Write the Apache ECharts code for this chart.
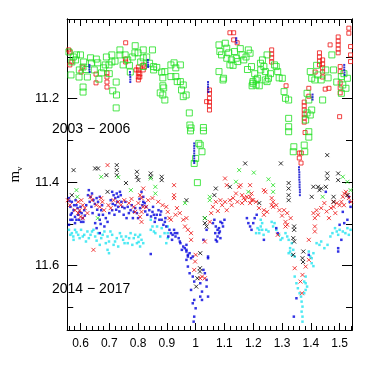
<!DOCTYPE html>
<html>
<head>
<meta charset="utf-8">
<script src="https://cdn.jsdelivr.net/npm/echarts@6/dist/echarts.min.js"></script>
<style>
  html, body { margin: 0; padding: 0; background: #fff; }
  #chart { width: 372px; height: 369px; }
</style>
</head>
<body>
<div id="chart"></div>
<script>
// axis ranges and ticks
const xRange = [0.554, 1.543];
const yRange = [11.009, 11.754];
const xMajor = [0.6, 0.7, 0.8, 0.9, 1, 1.1, 1.2, 1.3, 1.4, 1.5];
const xMinor = [0.56, 0.58, 0.62, 0.64, 0.66, 0.68, 0.72, 0.74, 0.76, 0.78, 0.82, 0.84, 0.86, 0.88,
  0.92, 0.94, 0.96, 0.98, 1.02, 1.04, 1.06, 1.08, 1.12, 1.14, 1.16, 1.18, 1.22, 1.24, 1.26, 1.28,
  1.32, 1.34, 1.36, 1.38, 1.42, 1.44, 1.46, 1.48, 1.52, 1.54];
const yMajor = [11.2, 11.4, 11.6];
const yMinor = [11.1, 11.3, 11.5, 11.7];
const periodLabels = ["2003 \u2212 2006", "2014 \u2212 2017"];

// 2003-2006: green open squares
const greenSquares = [
  [0.560,11.088],[0.570,11.112],[0.567,11.143],[0.586,11.095],[0.583,11.107],[0.595,11.148],[0.611,11.112],
  [0.609,11.124],[0.624,11.148],[0.638,11.114],[0.660,11.114],[0.664,11.153],[0.673,11.138],[0.686,11.119],
  [0.699,11.119],[0.709,11.095],[0.709,11.112],[0.737,11.083],[0.737,11.095],[0.790,11.073],[0.789,11.090],
  [0.809,11.112],[0.818,11.123],[0.609,11.172],[0.609,11.184],[0.724,11.160],[0.712,11.181],[0.725,11.191],
  [0.724,11.222],[0.648,11.131],[0.680,11.126],[0.764,11.107],[0.748,11.119],[0.773,11.136],[0.635,11.102],
  [0.596,11.131],[0.818,11.083],[0.818,11.102],[0.850,11.083],[0.854,11.123],[0.854,11.131],[0.882,11.136],
  [0.893,11.135],[0.886,11.150],[0.914,11.119],[0.925,11.114],[0.931,11.126],[0.947,11.119],[0.914,11.147],
  [0.931,11.147],[0.936,11.159],[0.947,11.159],[0.957,11.167],[0.951,11.179],[0.957,11.195],[0.967,11.191],
  [0.886,11.169],[0.889,11.174],[0.886,11.191],[0.893,11.203],[0.877,11.186],[0.978,11.234],[0.980,11.263],
  [0.984,11.270],[1.027,11.269],[1.081,11.071],[1.084,11.087],[1.103,11.067],[1.108,11.079],[1.081,11.135],
  [1.097,11.151],[1.095,11.155],[1.119,11.119],[1.135,11.087],[1.141,11.103],[1.146,11.111],[1.161,11.095],
  [1.167,11.107],[1.183,11.083],[1.189,11.091],[1.194,11.123],[1.199,11.159],[1.210,11.155],[1.210,11.167],
  [1.108,11.103],[1.124,11.107],[0.982,11.277],[1.027,11.277],[1.011,11.307],[1.016,11.311],[1.022,11.327],
  [1.000,11.343],[0.995,11.355],[1.006,11.401],[1.199,11.163],[1.196,11.169],[1.221,11.169],[1.232,11.107],
  [1.237,11.123],[1.242,11.135],[1.248,11.095],[1.253,11.151],[1.242,11.155],[1.248,11.159],[1.215,11.151],
  [1.226,11.131],[1.274,11.119],[1.280,11.123],[1.285,11.135],[1.301,11.151],[1.307,11.183],[1.312,11.199],
  [1.323,11.203],[1.323,11.247],[1.323,11.267],[1.398,11.135],[1.403,11.151],[1.414,11.155],[1.425,11.143],
  [1.436,11.155],[1.452,11.131],[1.473,11.095],[1.479,11.131],[1.506,11.147],[1.511,11.167],[1.527,11.151],
  [1.522,11.175],[1.506,11.187],[1.441,11.203],[1.387,11.187],[1.393,11.203],[1.403,11.227],[1.398,11.239],
  [1.387,11.234],[1.382,11.251],[1.323,11.279],[1.341,11.315],[1.339,11.327],[1.377,11.311],[1.379,11.327],
  [1.393,11.279],[1.393,11.292],
  [0.575,11.100],[0.600,11.095],[0.620,11.130],[0.655,11.105],[0.690,11.100],[0.700,11.140],[0.720,11.110],
  [0.755,11.095],[0.770,11.120],[0.780,11.100],[0.800,11.090],[0.830,11.100],[0.840,11.115],[0.865,11.125],
  [1.090,11.095],[1.115,11.090],[1.130,11.120],[1.155,11.080],[1.175,11.100],[1.180,11.130],[1.205,11.140],
  [1.225,11.115],[1.260,11.140],[1.290,11.150],[1.420,11.120],[1.460,11.150],[1.490,11.160],[1.515,11.140]
];

// 2003-2006: red open squares
const redSquares = [
  [0.559,11.083],[0.564,11.088],[0.570,11.112],[0.563,11.119],[0.602,11.136],[0.608,11.124],[0.654,11.141],
  [0.654,11.162],[0.692,11.138],[0.692,11.148],[0.692,11.160],[0.692,11.172],[0.757,11.066],[0.756,11.105],
  [0.757,11.112],[0.793,11.131],[0.806,11.141],[0.806,11.148],[0.822,11.124],[0.801,11.124],[0.801,11.131],
  [0.801,11.138],[0.801,11.148],[0.801,11.155],[0.818,11.119],[0.818,11.131],[1.048,11.179],[1.048,11.188],
  [1.048,11.199],[1.048,11.208],[1.048,11.217],[1.048,11.227],[1.038,11.207],[1.119,11.042],[1.132,11.042],
  [1.132,11.059],[1.144,11.066],[1.264,11.083],[1.264,11.093],[1.264,11.102],[1.264,11.112],[1.314,11.169],
  [1.393,11.175],[1.393,11.194],[1.430,11.090],[1.430,11.100],[1.430,11.110],[1.430,11.119],[1.441,11.107],
  [1.441,11.117],[1.441,11.126],[1.441,11.136],[1.441,11.148],[1.463,11.175],[1.450,11.177],[1.467,11.071],
  [1.495,11.052],[1.495,11.062],[1.495,11.071],[1.495,11.081],[1.495,11.090],[1.502,11.123],[1.502,11.135],
  [1.502,11.162],[1.502,11.174],[1.502,11.186],[1.532,11.031],[1.532,11.043],[1.538,11.075],[1.538,11.095],
  [1.538,11.111],[1.500,11.243],[1.377,11.208],[1.377,11.217],[1.377,11.227],[1.377,11.237],[1.377,11.246],
  [1.377,11.256],[1.415,11.136],[1.360,11.342],[1.366,11.354],[1.380,11.281],[1.367,11.330],[1.360,11.330]
];

// 2003-2006: blue points
const blueTop = [
  [0.631,11.119],[0.631,11.124],[0.631,11.130],[0.632,11.136],[0.772,11.136],[0.772,11.142],[0.773,11.148],
  [0.773,11.154],[0.773,11.160],[0.834,11.107],[0.834,11.113],[0.835,11.119],[0.835,11.124],[1.043,11.160],
  [1.043,11.166],[1.043,11.172],[1.044,11.178],[1.044,11.184],[1.141,11.055],[1.141,11.060],[1.142,11.066],
  [0.995,11.307],[0.995,11.313],[0.995,11.319],[0.995,11.325],[0.995,11.331],[0.995,11.337],[0.995,11.343],
  [0.995,11.349],[0.995,11.354],[1.406,11.190],[1.406,11.196],[1.406,11.202],[1.516,11.119],[1.516,11.125],
  [1.516,11.131],[1.517,11.137],[1.517,11.143],[1.359,11.364],[1.359,11.370],[1.360,11.376],[1.360,11.382],
  [1.360,11.388],[1.360,11.394],[1.361,11.400],[1.361,11.406],[1.361,11.412],[1.362,11.418],[1.362,11.424],
  [1.362,11.431]
];

// 2014-2017: blue dots
const blueDots = [
  [0.560,11.438],[0.570,11.447],[0.565,11.459],[0.576,11.467],[0.570,11.474],[0.581,11.483],[0.565,11.490],
  [0.560,11.502],[0.586,11.455],[0.597,11.471],[0.586,11.490],[0.602,11.495],[0.581,11.498],[0.608,11.486],
  [0.592,11.478],[0.613,11.467],[0.629,11.419],[0.640,11.427],[0.635,11.435],[0.645,11.443],[0.656,11.438],
  [0.667,11.435],[0.661,11.447],[0.672,11.467],[0.678,11.478],[0.667,11.490],[0.651,11.498],[0.656,11.510],
  [0.667,11.522],[0.683,11.506],[0.694,11.495],[0.710,11.423],[0.715,11.431],[0.721,11.438],[0.726,11.427],
  [0.731,11.435],[0.737,11.423],[0.742,11.447],[0.731,11.459],[0.710,11.467],[0.721,11.455],[0.753,11.462],
  [0.764,11.459],[0.774,11.467],[0.785,11.471],[0.796,11.474],[0.807,11.462],[0.818,11.435],[0.818,11.447],
  [0.812,11.423],[0.823,11.450],[0.828,11.459],[0.839,11.467],[0.850,11.471],[0.855,11.478],[0.860,11.486],
  [0.871,11.467],[0.877,11.478],[0.882,11.490],[0.893,11.495],[0.898,11.506],[0.909,11.514],[0.914,11.522],
  [0.920,11.526],[0.930,11.530],[0.941,11.534],[0.947,11.546],[0.957,11.554],[0.968,11.562],[0.973,11.574],
  [0.984,11.582],[0.968,11.550],[0.925,11.514],[0.936,11.522],[0.979,11.570],[0.990,11.578],[1.065,11.490],
  [1.070,11.506],[1.076,11.514],[1.081,11.522],[1.086,11.534],[1.070,11.538],[1.076,11.530],[1.081,11.510],
  [1.092,11.498],[1.086,11.495],[1.038,11.514],[1.027,11.538],[1.178,11.486],[1.194,11.514],[1.205,11.486],
  [1.189,11.506],[1.043,11.578],[0.844,11.572],[0.968,11.566],[0.973,11.578],[0.968,11.586],[0.973,11.602],
  [0.979,11.618],[0.990,11.626],[0.995,11.638],[0.984,11.658],[0.995,11.682],[0.990,11.690],[1.000,11.702],
  [0.995,11.722],[0.993,11.734],[1.016,11.642],[1.022,11.662],[1.016,11.674],[1.022,11.682],[1.027,11.610],
  [1.032,11.618],[1.038,11.634],[1.038,11.650],[1.043,11.674],[1.043,11.582],[1.237,11.538],[1.280,11.510],
  [1.285,11.522],[1.452,11.423],[1.511,11.471],[1.527,11.490],[1.516,11.498],[1.500,11.502],[1.495,11.558],
  [1.506,11.538],[1.393,11.574],[1.350,11.678],[1.341,11.722],[1.495,11.566],[1.535,11.447],[1.538,11.459],
  [1.532,11.435],
  [0.562,11.445],[0.566,11.478],[0.572,11.490],[0.578,11.455],[0.583,11.443],[0.590,11.462],[0.595,11.490],
  [0.600,11.459],[0.604,11.474],[0.610,11.495],[0.615,11.480],[0.620,11.455],[0.626,11.431],[0.632,11.447],
  [0.638,11.459],[0.642,11.474],[0.650,11.452],[0.658,11.466],[0.664,11.478],[0.670,11.500],[0.675,11.455],
  [0.688,11.486],[0.700,11.474],[0.705,11.443],[0.712,11.452],[0.718,11.478],[0.724,11.466],[0.728,11.447],
  [0.735,11.470],[0.740,11.431],[0.745,11.459],[0.750,11.478],[0.756,11.447],[0.760,11.486],[0.768,11.474],
  [0.778,11.455],[0.782,11.486],[0.790,11.462],[0.800,11.486],[0.805,11.440],[0.815,11.455],[0.825,11.470],
  [0.832,11.478],[0.845,11.482],[0.852,11.459],[0.858,11.495],[0.865,11.478],[0.874,11.490],[0.880,11.470],
  [0.888,11.502],[0.895,11.486],[0.905,11.530],[0.918,11.538],[0.928,11.522],[0.945,11.542],[0.952,11.562],
  [0.962,11.558],[1.060,11.498],[1.068,11.522],[1.074,11.542],[1.084,11.518],[1.095,11.506],[1.100,11.490],
  [1.183,11.498],[1.200,11.498],[1.212,11.478]
];

// 2014-2017: cyan dots
const cyanDots = [
  [0.560,11.514],[0.570,11.522],[0.581,11.514],[0.592,11.526],[0.602,11.514],[0.608,11.530],[0.624,11.518],
  [0.635,11.526],[0.645,11.514],[0.651,11.530],[0.661,11.522],[0.672,11.534],[0.683,11.518],[0.694,11.530],
  [0.699,11.542],[0.710,11.526],[0.715,11.550],[0.726,11.534],[0.737,11.522],[0.748,11.538],[0.758,11.530],
  [0.764,11.546],[0.774,11.522],[0.785,11.534],[0.796,11.546],[0.807,11.526],[0.812,11.538],[0.694,11.562],
  [0.731,11.554],[0.667,11.550],[0.619,11.542],[0.576,11.538],[0.699,11.570],[0.801,11.531],[0.802,11.543],
  [0.807,11.554],[0.844,11.490],[0.850,11.506],[0.844,11.514],[0.855,11.518],[0.903,11.506],[0.903,11.522],
  [0.903,11.534],[0.898,11.546],[0.866,11.506],[0.882,11.510],[1.226,11.490],[1.231,11.498],[1.226,11.506],
  [1.215,11.510],[1.221,11.514],[1.231,11.514],[1.210,11.522],[1.221,11.522],[1.264,11.495],[1.274,11.498],
  [1.269,11.506],[1.318,11.530],[1.323,11.538],[1.334,11.546],[1.328,11.558],[1.339,11.562],[1.334,11.574],
  [1.344,11.578],[1.323,11.570],[1.393,11.566],[1.398,11.578],[1.403,11.582],[1.409,11.570],[1.484,11.510],
  [1.490,11.518],[1.500,11.514],[1.511,11.518],[1.538,11.514],[1.527,11.510],[1.447,11.558],[1.344,11.626],
  [1.350,11.642],[1.355,11.654],[1.361,11.666],[1.366,11.674],[1.368,11.686],[1.371,11.698],[1.368,11.710],
  [1.371,11.722],[1.371,11.734],[1.377,11.638],[1.382,11.642],[1.387,11.650],[1.382,11.658],[1.377,11.666],
  [1.382,11.626],[1.403,11.594],[1.409,11.601],[1.328,11.566],[1.290,11.526],[1.301,11.534],[1.312,11.522],
  [1.430,11.550],[1.436,11.542],[1.458,11.550],[1.468,11.530],[1.245,11.514],[1.253,11.518],
  [0.565,11.526],[0.575,11.530],[0.586,11.520],[0.597,11.534],[0.613,11.526],[0.629,11.534],[0.640,11.518],
  [0.656,11.540],[0.677,11.526],[0.688,11.546],[0.704,11.518],[0.720,11.542],[0.742,11.530],[0.753,11.546],
  [0.769,11.534],[0.780,11.550],[0.790,11.526],[0.818,11.546],[0.860,11.522],[0.877,11.530],[0.892,11.522],
  [1.236,11.526],[1.280,11.514],[1.295,11.538],[1.420,11.546],[1.475,11.522],[1.495,11.526],[1.520,11.522],
  [1.532,11.526]
];

// 2014-2017: red crosses
const redCrosses = [
  [0.694,11.359],[0.592,11.447],[0.608,11.455],[0.597,11.467],[0.581,11.467],[0.592,11.474],[0.600,11.483],
  [0.608,11.486],[0.640,11.443],[0.635,11.435],[0.672,11.438],[0.676,11.447],[0.667,11.459],[0.697,11.455],
  [0.731,11.447],[0.785,11.459],[0.790,11.471],[0.801,11.450],[0.818,11.459],[0.812,11.471],[0.645,11.562],
  [0.818,11.415],[0.807,11.431],[0.812,11.438],[0.828,11.459],[0.807,11.483],[0.812,11.495],[0.925,11.407],
  [0.925,11.431],[0.925,11.438],[0.898,11.459],[0.903,11.471],[0.909,11.486],[0.914,11.490],[0.930,11.478],
  [0.957,11.490],[0.968,11.486],[0.963,11.506],[0.973,11.514],[0.984,11.522],[0.984,11.538],[1.032,11.542],
  [1.054,11.474],[1.060,11.459],[1.070,11.447],[1.086,11.443],[1.092,11.455],[1.102,11.447],[1.108,11.407],
  [1.102,11.391],[1.119,11.443],[1.140,11.427],[1.151,11.411],[1.156,11.407],[1.161,11.431],[1.167,11.438],
  [1.172,11.443],[1.178,11.435],[1.189,11.435],[1.194,11.427],[1.161,11.450],[1.077,11.469],[1.108,11.467],
  [1.049,11.495],[1.000,11.574],[1.189,11.407],[1.194,11.443],[1.199,11.443],[1.189,11.450],[1.237,11.419],
  [1.242,11.423],[1.264,11.438],[1.269,11.447],[1.264,11.455],[1.269,11.459],[1.237,11.467],[1.248,11.471],
  [1.237,11.478],[1.291,11.467],[1.307,11.467],[1.318,11.474],[1.312,11.495],[1.318,11.502],[1.312,11.506],
  [1.285,11.526],[1.409,11.474],[1.414,11.486],[1.420,11.467],[1.436,11.462],[1.447,11.450],[1.463,11.486],
  [1.479,11.447],[1.479,11.459],[1.490,11.450],[1.506,11.447],[1.511,11.435],[1.516,11.427],[1.522,11.423],
  [1.527,11.431],[1.532,11.438],[1.500,11.455],[1.393,11.538],[1.414,11.506],[1.414,11.518],[1.393,11.586],
  [1.344,11.606],[1.371,11.622],[1.364,11.638],[1.369,11.666],[1.382,11.602],[0.998,11.590],[0.995,11.610],
  [1.022,11.626],[1.016,11.630],[1.032,11.630],
  [0.556,11.443],[0.563,11.455],[0.603,11.443],[0.615,11.462],[0.624,11.474],[0.655,11.455],[0.682,11.467],
  [0.705,11.462],[0.715,11.443],[0.740,11.455],[0.752,11.443],[0.768,11.450],[0.777,11.440],[0.835,11.443],
  [0.850,11.438],[0.870,11.447],[0.885,11.455],[0.935,11.462],[0.945,11.474],[1.125,11.455],[1.130,11.438],
  [1.145,11.447],[1.210,11.447],[1.220,11.462],[1.280,11.455],[1.300,11.480],[1.330,11.486],[1.425,11.478],
  [1.455,11.470],[1.470,11.462],[1.485,11.474],[1.515,11.455],[1.540,11.447]
];

// 2014-2017: black crosses
const blackCrosses = [
  [0.576,11.371],[0.651,11.367],[0.661,11.367],[0.690,11.383],[0.726,11.359],[0.726,11.371],[0.726,11.383],
  [0.796,11.375],[0.796,11.387],[0.758,11.402],[0.570,11.431],[0.694,11.423],[0.844,11.379],[0.844,11.387],
  [0.882,11.387],[0.882,11.395],[0.801,11.395],[0.968,11.443],[1.172,11.355],[1.119,11.411],[1.070,11.415],
  [1.065,11.431],[1.032,11.486],[1.032,11.498],[1.038,11.506],[1.016,11.570],[1.457,11.335],[1.296,11.355],
  [1.457,11.379],[1.457,11.391],[1.495,11.379],[1.495,11.395],[1.323,11.402],[1.323,11.415],[1.409,11.411],
  [1.425,11.411],[1.430,11.419],[1.436,11.415],[1.452,11.411],[1.323,11.431],[1.323,11.443],[1.221,11.450],
  [1.403,11.435],[1.479,11.435],[1.479,11.447],[1.527,11.431],[1.342,11.506],[1.342,11.514],[1.339,11.534],
  [1.342,11.542],[1.374,11.566],[1.371,11.582],[1.339,11.574],[1.373,11.591],[1.015,11.606],[1.015,11.614],
  [1.006,11.630],[1.002,11.650]
];

// 2014-2017: green crosses
const greenCrosses = [
  [0.589,11.435],[0.586,11.419],[0.672,11.387],[0.731,11.388],[0.775,11.419],[0.660,11.486],[0.844,11.391],
  [0.860,11.411],[0.860,11.427],[0.963,11.450],[1.049,11.435],[1.049,11.443],[1.032,11.486],[1.140,11.399],
  [1.151,11.371],[1.183,11.423],[1.202,11.377],[1.253,11.393],[1.269,11.407],[1.269,11.423],[1.527,11.399],
  [1.511,11.387],[1.538,11.419],[1.441,11.435]
];

const FONT = "Liberation Sans";
const cross = "path://M0,0L10,10M10,0L0,10";

const chart = echarts.init(document.getElementById("chart"), null, { renderer: "canvas" });

const xAxisBase = (pos, values, len, labels) => ({
  type: "value",
  min: xRange[0],
  max: xRange[1],
  position: pos,
  axisLine: { show: true, onZero: false, lineStyle: { color: "#000", width: 1 } },
  axisTick: { show: true, inside: true, length: len, customValues: values, lineStyle: { color: "#000", width: 1 } },
  axisLabel: labels
    ? { show: true, customValues: values, margin: 8, color: "#000", fontSize: 12, fontFamily: FONT, formatter: (v) => String(v) }
    : { show: false },
  splitLine: { show: false },
});

const yAxisBase = (pos, values, len, labels) => ({
  type: "value",
  min: yRange[0],
  max: yRange[1],
  inverse: true,
  position: pos,
  axisLine: { show: true, onZero: false, lineStyle: { color: "#000", width: 1 } },
  axisTick: { show: true, inside: true, length: len, customValues: values, lineStyle: { color: "#000", width: 1 } },
  axisLabel: labels
    ? { show: true, customValues: values, margin: 8, color: "#000", fontSize: 13, fontFamily: FONT, formatter: (v) => String(v) }
    : { show: false },
  splitLine: { show: false },
});

const yLeft = yAxisBase("left", yMajor, 10, true);
yLeft.name = "{m|m}{v|v}";
yLeft.nameLocation = "middle";
yLeft.nameRotate = 90;
yLeft.nameGap = 43;
yLeft.nameTextStyle = {
  rich: {
    m: { fontSize: 15, fontFamily: "Liberation Serif", color: "#000" },
    v: { fontSize: 9, fontFamily: "Liberation Serif", color: "#000", padding: [8, 0, 0, 0] },
  },
};

chart.setOption({
  animation: false,
  backgroundColor: "#fff",
  grid: { left: 45, right: 20, top: 19, bottom: 39, containLabel: false },
  xAxis: [
    xAxisBase("bottom", xMajor, 7, true),
    xAxisBase("bottom", xMinor, 4, false),
    xAxisBase("top", xMajor, 7, false),
    xAxisBase("top", xMinor, 4, false),
  ],
  yAxis: [
    yLeft,
    yAxisBase("left", yMinor, 6, false),
    yAxisBase("right", yMajor, 10, false),
    yAxisBase("right", yMinor, 6, false),
  ],
  graphic: [
    { type: "text", left: 52, top: 122, style: { text: periodLabels[0], fontSize: 14, fontFamily: FONT, fill: "#000" } },
    { type: "text", left: 52, top: 282, style: { text: periodLabels[1], fontSize: 14, fontFamily: FONT, fill: "#000" } },
  ],
  series: [
    {
      name: "red squares", type: "scatter", data: redSquares, symbol: "rect", symbolSize: 4, silent: true,
      itemStyle: { color: "rgba(0,0,0,0)", borderColor: "#ee1111", borderWidth: 1 },
    },
    {
      name: "green squares", type: "scatter", data: greenSquares, symbol: "rect", symbolSize: 6, silent: true,
      itemStyle: { color: "rgba(0,0,0,0)", borderColor: "#1fe01f", borderWidth: 1 },
    },
    {
      name: "blue top", type: "scatter", data: blueTop, symbol: "rect", symbolSize: 2, silent: true,
      itemStyle: { color: "#0000cc" },
    },
    {
      name: "cyan dots", type: "scatter", data: cyanDots, symbol: "rect", symbolSize: 2.5, silent: true,
      itemStyle: { color: "#22e3f0" },
    },
    {
      name: "blue dots", type: "scatter", data: blueDots, symbol: "rect", symbolSize: 2.5, silent: true,
      itemStyle: { color: "#0000dd" },
    },
    {
      name: "red crosses", type: "scatter", data: redCrosses, symbol: cross, symbolSize: 4, silent: true,
      itemStyle: { color: "rgba(0,0,0,0)", borderColor: "#ee1111", borderWidth: 1 },
    },
    {
      name: "black crosses", type: "scatter", data: blackCrosses, symbol: cross, symbolSize: 4, silent: true,
      itemStyle: { color: "rgba(0,0,0,0)", borderColor: "#000", borderWidth: 1 },
    },
    {
      name: "green crosses", type: "scatter", data: greenCrosses, symbol: cross, symbolSize: 4, silent: true,
      itemStyle: { color: "rgba(0,0,0,0)", borderColor: "#1fe01f", borderWidth: 1 },
    },
  ],
});
</script>
</body>
</html>
